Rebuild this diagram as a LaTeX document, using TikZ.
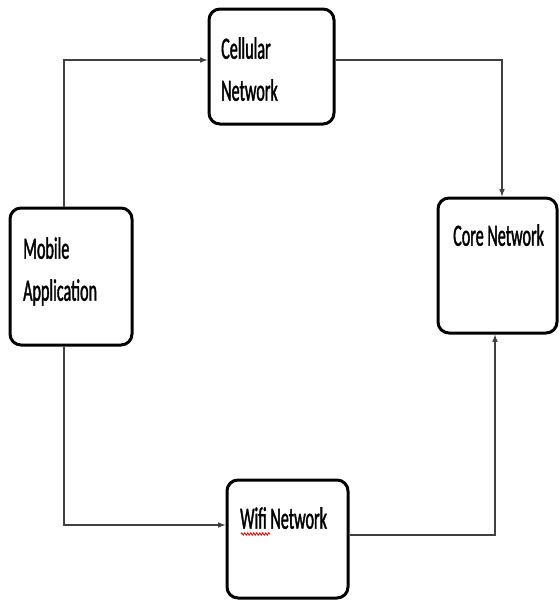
\documentclass[tikz,border=0pt]{standalone}
\usepackage{fontspec}
\setmainfont[FakeStretch=0.52, FakeBold=1.2]{Carlito}
\usetikzlibrary{decorations.pathmorphing}
\tikzset{
  blk/.style={draw, line width=3pt, rounded corners=11pt, inner sep=0pt},
  lbl/.style={anchor=north west, inner sep=0pt, align=left, font=\fontsize{31}{42}\selectfont},
  conn/.style={->, draw=black!75, line width=1.5pt}
}
\begin{document}
\begin{tikzpicture}[>=latex, x=1pt, y=-1pt]
    \useasboundingbox (0,0) rectangle (560,603);
    % boxes
    \node[blk, minimum width=125pt, minimum height=115pt] (cell) at (271.5,66.5) {};
    \node[blk, minimum width=119pt, minimum height=135pt] (core) at (497.5,265.5) {};
    \node[blk, minimum width=122pt, minimum height=137pt] (mob) at (71,276.5) {};
    \node[blk, minimum width=121pt, minimum height=118pt] (wifi) at (287.5,539) {};
    % texts
    \node[lbl] (cellTxt) at (221,37) {Cellular\\Network};
    \node[lbl] (coreTxt) at (453,224) {Core Network};
    \node[lbl] (mobTxt) at (23,237) {Mobile\\Application};
    \node[lbl] (wifiTxt) at (240,507) {Wifi Network};
    \draw[red, line width=0.8pt, decorate, decoration={zigzag, segment length=3pt, amplitude=1.2pt}] (241,534) -- (270,534);
    % connectors
    \draw[conn] ([xshift=-7pt]mob.north) |- ([yshift=6.5pt]cell.west);
    \draw[conn] ([yshift=6.5pt]cell.east) -| ([xshift=4.5pt]core.north);
    \draw[conn] ([xshift=-7pt]mob.south) |- ([yshift=14pt]wifi.west);
    \draw[conn] ([yshift=4pt]wifi.east) -| ([xshift=-2.5pt]core.south);
\end{tikzpicture}
\end{document}
